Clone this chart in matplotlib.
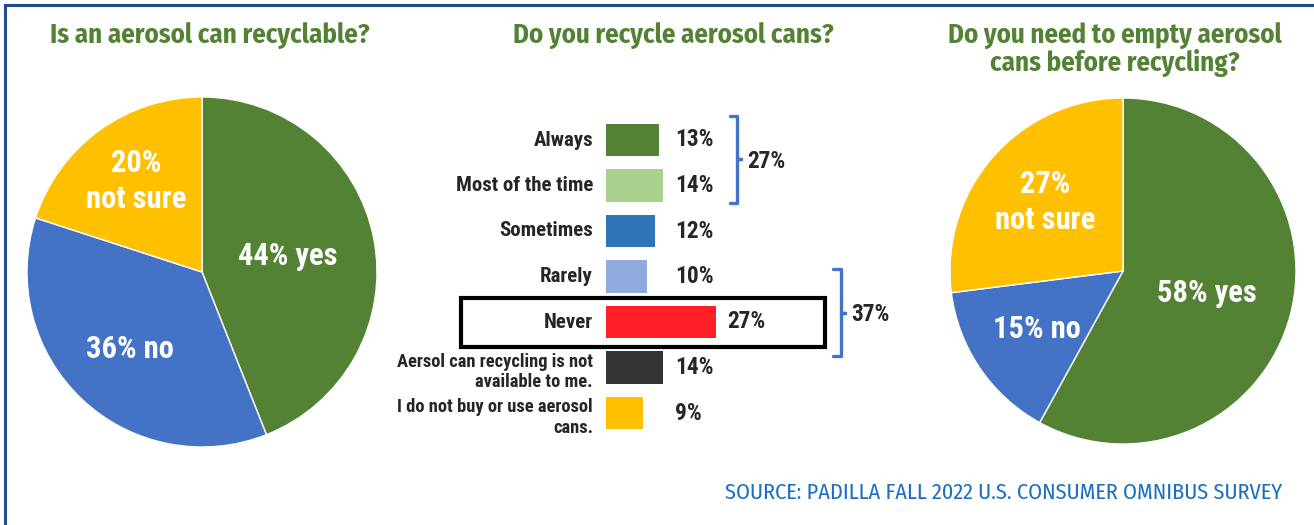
import numpy as np
import matplotlib
matplotlib.use("Agg")
import matplotlib.pyplot as plt
from matplotlib.patches import Rectangle
from matplotlib.lines import Line2D

W, H = 1314, 525

# left pie: is an aerosol can recyclable?
pie1_labels = ["44% yes", "36% no", "20%\nnot sure"]
pie1_values = [44, 36, 20]

# right pie: do you need to empty cans before recycling?
pie2_labels = ["58% yes", "15% no", "27%\nnot sure"]
pie2_values = [58, 15, 27]

# middle bars: do you recycle aerosol cans?
bar_cats = ["Always", "Most of the time", "Sometimes", "Rarely", "Never",
            "Aersol can recycling is not\navailable to me.",
            "I do not buy or use aerosol\ncans."]
bar_values = [13, 14, 12, 10, 27, 14, 9]
bar_colors = ["#548235", "#a9d18e", "#2e75b6", "#8faadc", "#ff1f27", "#333333", "#ffc000"]
groups = [(0, 1), (3, 4)]

pie_colors = ["#548235", "#4472c4", "#ffc000"]
green = "#548235"
dark = "#262626"
bracket_c = "#4472c4"

title_font = ["Fira Sans Condensed", "Open Sans", "DejaVu Sans"]
label_font = ["Roboto Condensed", "Liberation Sans Narrow", "DejaVu Sans"]
src_font = ["Fira Sans Condensed", "Open Sans", "DejaVu Sans"]


def px_box(x0, y0, w, h):
    # pixel box (top-left origin) to figure fraction
    return [x0 / W, 1 - (y0 + h) / H, w / W, h / H]


def draw_pie(ax, values, labels, radii):
    wedges, _ = ax.pie(values, colors=pie_colors, startangle=90, counterclock=False,
                       wedgeprops=dict(edgecolor="white", linewidth=1))
    ax.set_xlim(-1, 1)
    ax.set_ylim(-1, 1)
    for w, lab, r in zip(wedges, labels, radii):
        ang = np.deg2rad((w.theta1 + w.theta2) / 2)
        ax.text(r * np.cos(ang), r * np.sin(ang), lab, ha="center", va="center",
                color="white", fontsize=22, fontweight="bold", family=label_font,
                linespacing=1.25)


fig = plt.figure(figsize=(W / 100, H / 100), dpi=100)

ax1 = fig.add_axes(px_box(27, 97, 350, 350))
draw_pie(ax1, pie1_values, pie1_labels, [0.5, 0.6, 0.64])

ax3 = fig.add_axes(px_box(950, 98, 346, 346))
draw_pie(ax3, pie2_values, pie2_labels, [0.5, 0.6, 0.6])

# bar panel, 0% at x=606px, 4.07 px per percent
ax2 = fig.add_axes(px_box(606, 117.25, 300, 318.5))
ax2.set_xlim(0, 300 / 4.07)
ax2.set_ylim(6.5, -0.5)
ax2.axis("off")
ypos = np.arange(len(bar_cats))
ax2.barh(ypos, bar_values, height=0.725, color=bar_colors)
for y, cat, v in zip(ypos, bar_cats, bar_values):
    small = "\n" in cat
    ax2.text(-3.2, y + (0.1 if small else 0), cat, ha="right", va="center",
             fontsize=13.3 if small else 15, fontweight="bold", color=dark,
             family=label_font, linespacing=1.2, clip_on=False)
    ax2.text(max(v + 2.7, 17), y, f"{v}%", ha="left", va="center", fontsize=16.8,
             fontweight="bold", color=dark, family=label_font, clip_on=False)

# box around "Never"
ax2.add_patch(Rectangle((-35.6, 3.48), 89.4, 1.08, fill=False, edgecolor="black",
                        linewidth=3, clip_on=False))

# brackets with group totals
bracket_geo = [(30.5, 32.2, -0.53, 1.38), (55.8, 57.7, 2.84, 4.75)]
for (a, b), (x0, x1, yt, yb) in zip(groups, bracket_geo):
    ym = (yt + yb) / 2
    ax2.plot([x0, x1, x1, x1 + 1.0, x1, x1, x0], [yt, yt, ym, ym, ym, yb, yb],
             color=bracket_c, linewidth=2.4, solid_joinstyle="round",
             solid_capstyle="round", clip_on=False)
    ax2.text(x1 + 2.6, ym + 0.05, f"{bar_values[a] + bar_values[b]}%", ha="left",
             va="center", fontsize=16.8, fontweight="bold", color=dark,
             family=label_font, clip_on=False)

# titles
tsize = 19.3
fig.text(210 / W, 1 - 43 / H, "Is an aerosol can recyclable?", ha="center",
         va="baseline", fontsize=tsize, fontweight="bold", color=green, family=title_font)
fig.text(673 / W, 1 - 43 / H, "Do you recycle aerosol cans?", ha="center",
         va="baseline", fontsize=tsize, fontweight="bold", color=green, family=title_font)
fig.text(1115 / W, 1 - 43 / H, "Do you need to empty aerosol", ha="center",
         va="baseline", fontsize=tsize, fontweight="bold", color=green, family=title_font)
fig.text(1115 / W, 1 - 71 / H, "cans before recycling?", ha="center",
         va="baseline", fontsize=tsize, fontweight="bold", color=green, family=title_font)

fig.text(1282 / W, 1 - 499 / H, "SOURCE: PADILLA FALL 2022 U.S. CONSUMER OMNIBUS SURVEY",
         ha="right", va="baseline", fontsize=16, color="#1b6ec2", family=src_font)

# frame lines on left and top
fig.add_artist(Line2D([5 / W, 5 / W], [0, 1 - 5 / H], color="#1f4e8c", linewidth=2.2,
                      transform=fig.transFigure))
fig.add_artist(Line2D([5 / W, 1], [1 - 5 / H, 1 - 5 / H], color="#1f4e8c", linewidth=2.2,
                      transform=fig.transFigure))

fig.savefig("out.png", dpi=100)
